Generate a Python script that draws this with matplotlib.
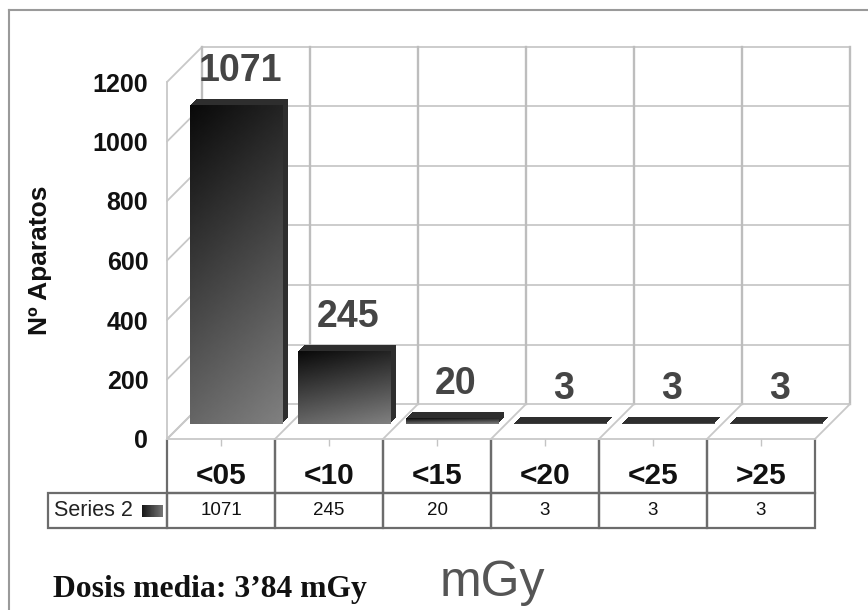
import numpy as np
import matplotlib
matplotlib.use("Agg")
import matplotlib.pyplot as plt
from matplotlib.patches import Rectangle
from matplotlib.transforms import ScaledTranslation, Affine2D
from matplotlib.lines import Line2D
from matplotlib.table import Table

categories = ["<05", "<10", "<15", "<20", "<25", ">25"]
values = [1071, 245, 20, 3, 3, 3]
series_name = "Series 2"
y_ticks = [0, 200, 400, 600, 800, 1000, 1200]
y_label = "Nº Aparatos"
note = "Dosis media: 3’84 mGy"
unit = "mGy"

W, H, DPI = 868, 610, 100
AX_W, AX_H = 648, 357   # px, size of the front plane
DEPTH = 35       # px, oblique depth of floor / back wall
BAR_FRONT = 15   # px, depth of the bar front face
BAR_BACK = 21    # px, depth of the bar back face
BAR_W = 0.86
GRID = "#c8c8c8"
PT = 72 / DPI

plt.rcParams["font.family"] = ["Liberation Sans", "DejaVu Sans"]

fig = plt.figure(figsize=(W / DPI, H / DPI), dpi=DPI)
ax = fig.add_axes([167 / W, 1 - 439 / H, AX_W / W, AX_H / H])
left, right = -0.5, len(categories) - 0.5
ax.set_xlim(left, right)
ax.set_ylim(0, 1200)
ax.set_autoscale_on(False)
ax.patch.set_visible(False)
for s in ax.spines.values():
    s.set_visible(False)


def shift(px):
    return ax.transData + ScaledTranslation(px / DPI, px / DPI, fig.dpi_scale_trans)


back = shift(DEPTH)
edges = np.arange(len(categories) + 1) - 0.5

# back wall, left wall and floor grid
for v in y_ticks:
    ax.plot([left, right], [v, v], color=GRID, lw=1.3, transform=back, clip_on=False, zorder=1)
    ax.annotate("", xy=(left, v), xytext=(DEPTH * PT, DEPTH * PT), textcoords="offset points",
                arrowprops=dict(arrowstyle="-", color=GRID, lw=1.3, shrinkA=0, shrinkB=0),
                annotation_clip=False, zorder=1)
for e in edges:
    ax.plot([e, e], [0, 1200], color="#bdbdbd", lw=1.7, transform=back, clip_on=False, zorder=1)
    ax.annotate("", xy=(e, 0), xytext=(DEPTH * PT, DEPTH * PT), textcoords="offset points",
                arrowprops=dict(arrowstyle="-", color=GRID, lw=1.3, shrinkA=0, shrinkB=0),
                annotation_clip=False, zorder=1)
ax.plot([left, left], [0, 1200], color=GRID, lw=1.3, clip_on=False, zorder=1)
ax.plot([left, right], [0, 0], color=GRID, lw=1.3, clip_on=False, zorder=1)

# bars: extruded body then gradient front face
ty = np.linspace(0, 1, 64)[:, None]
tx = np.linspace(0, 1, 32)[None, :]
grad = 0.04 + 0.36 * ty + 0.10 * tx
for i, v in enumerate(values):
    x0 = i - BAR_W / 2
    for d in range(BAR_BACK, BAR_FRONT, -1):
        ax.add_patch(Rectangle((x0, 0), BAR_W, v, transform=shift(d), facecolor="#2e2e2e",
                               edgecolor="none", clip_on=False, zorder=3))
    im = ax.imshow(grad, extent=(x0, x0 + BAR_W, 0, v), cmap="gray", vmin=0, vmax=1,
                   aspect="auto", interpolation="bilinear", zorder=4)
    im.set_transform(shift(BAR_FRONT))
    im.set_clip_on(False)
    ax.annotate(str(v), xy=(i, v), xytext=(19 * PT, 49 * PT), textcoords="offset points",
                ha="center", va="center", fontsize=27, fontweight="bold", color="#454545",
                annotation_clip=False, zorder=5)
ax.set_xlim(left, right)
ax.set_ylim(0, 1200)

ax.set_yticks(y_ticks)
ax.set_yticklabels([str(t) for t in y_ticks], fontsize=18, fontweight="bold", color="#111111")
ax.tick_params(axis="y", length=0, pad=13.5)
ax.set_xticks(range(len(categories)))
ax.tick_params(axis="x", length=5, width=1, color="#c4c4c4", labelbottom=False)
ax.set_ylabel(y_label, fontsize=19, fontweight="bold", color="#111111")
ax.yaxis.set_label_coords(-0.177, 0.5)

# data table under the floor (sizes in axes fractions)
cw = 1 / len(categories)
tbl = Table(ax, loc="bottom")
tbl.auto_set_font_size(False)
for j, (cat, v) in enumerate(zip(categories, values)):
    head = tbl.add_cell(0, j, width=cw, height=54 / AX_H, text=cat, loc="center",
                        facecolor="none", edgecolor="#6c6c6c")
    head.visible_edges = "BLR"
    head.get_text().set(fontsize=21.5, fontweight="bold", va="top", color="#111111")
    head.get_text().set_transform(Affine2D().translate(0, 4))
    cell = tbl.add_cell(1, j, width=cw, height=35 / AX_H, text=str(v), loc="center",
                        facecolor="none", edgecolor="#6c6c6c")
    cell.get_text().set(fontsize=13.5, color="#111111")
lab = tbl.add_cell(1, -1, width=119 / AX_W, height=35 / AX_H, text=series_name, loc="left",
                   facecolor="none", edgecolor="#6c6c6c")
lab.PAD = 0.05
lab.get_text().set(fontsize=15.5, color="#222222")
for cell in tbl.get_celld().values():
    cell.set_linewidth(1.6)
ax.add_table(tbl)

# legend key in the row label cell
kax = fig.add_axes([142 / W, 1 - 517 / H, 20 / W, 12 / H])
kax.imshow(np.linspace(0.1, 0.45, 16)[None, :], cmap="gray", vmin=0, vmax=1, aspect="auto")
kax.axis("off")

fig.text(53 / W, 1 - 597 / H, note, family=["Liberation Serif", "DejaVu Serif"],
         fontsize=22.8, fontweight="bold", color="#111111", ha="left", va="baseline")
fig.text(492 / W, 1 - 596 / H, unit, fontsize=36, color="#555555", ha="center", va="baseline")

# frame of the original figure (top and left edges)
fig.add_artist(Line2D([9 / W, 9 / W], [0, 1 - 10 / H], color="#9a9a9a", lw=1.5))
fig.add_artist(Line2D([9 / W, 1], [1 - 10 / H, 1 - 10 / H], color="#9a9a9a", lw=1.5))

fig.savefig("out.png", dpi=DPI)
